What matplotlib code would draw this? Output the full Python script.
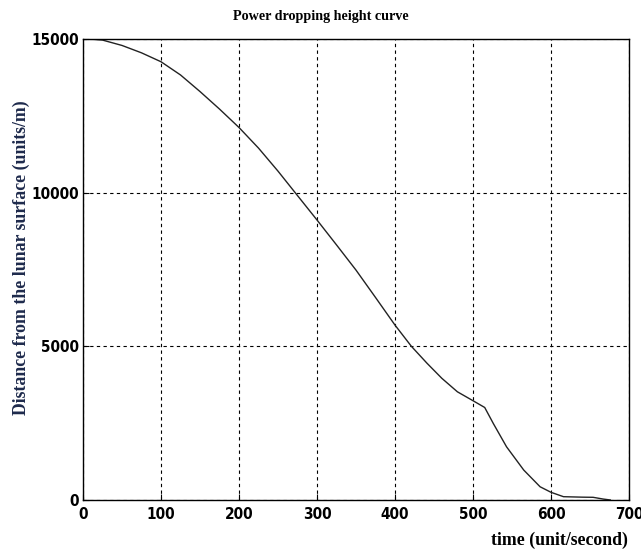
import matplotlib
matplotlib.use("Agg")
import matplotlib.pyplot as plt

# curve
tempo = [0, 10, 25, 50, 75, 100, 125, 150, 175, 200, 225, 250, 272, 300, 325, 350,
         375, 400, 421, 441, 460, 480, 500, 515, 526, 543, 565, 586, 600, 616, 640,
         654, 667, 676]
altura = [15000, 14995, 14965, 14790, 14550, 14260, 13830, 13290, 12720, 12120, 11450,
          10700, 10000, 9110, 8300, 7480, 6590, 5690, 5000, 4450, 3960, 3520, 3230,
          3010, 2490, 1730, 975, 430, 250, 107, 92, 87, 30, 0]

xticks = [0, 100, 200, 300, 400, 500, 600, 700]
yticks = [0, 5000, 10000, 15000]

fig = plt.figure(figsize=(6.41, 5.54), dpi=100)
ax = fig.add_axes([0.1295, 0.0975, 0.8518, 0.8321])

ax.plot(tempo, altura, color='#222222', linewidth=1.0)

ax.set_xlim(0, 700)
ax.set_ylim(0, 15000)
ax.set_xticks(xticks)
ax.set_yticks(yticks)

fonte_ticks = dict(family='DejaVu Sans', weight='bold', stretch='condensed', size=11)
ax.set_xticklabels([str(v) for v in xticks], fontdict=fonte_ticks)
ax.set_yticklabels([str(v) for v in yticks], fontdict=fonte_ticks)
ax.tick_params(direction='in', length=4, width=0.8, colors='black')
ax.tick_params(axis='x', pad=5)
ax.tick_params(axis='y', pad=3)

ax.grid(True, color='black', linestyle=(0, (3, 3)), linewidth=0.8)
for s in ax.spines.values():
    s.set_linewidth(1.0)

fig.text(0.5, 0.971, "Power dropping height curve", ha='center', va='center',
         family='Liberation Serif', weight='bold', size=10.2)
fig.text(0.034, 0.535, "Distance from the lunar surface (units/m)", ha='center', va='center',
         rotation=90, family='Liberation Serif', weight='bold', size=12.8, color='#1e2a4c')
fig.text(0.872, 0.025, "time (unit/second)", ha='center', va='center',
         family='Liberation Serif', weight='bold', size=12.8)

fig.savefig('out.png', dpi=100)
